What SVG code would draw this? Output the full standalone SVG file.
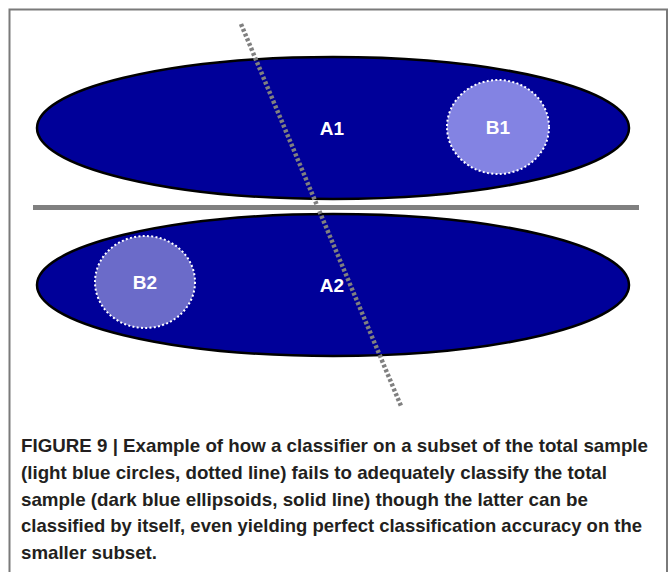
<svg xmlns="http://www.w3.org/2000/svg" width="671" height="572" viewBox="0 0 671 572">
  <defs>
    <style>
      .big { fill: #000099; stroke: #000000; stroke-width: 2.5; }
      .sub { stroke: #ffffff; stroke-width: 2; stroke-dasharray: 2 2.3; }
      .lbl { font-family: "Liberation Sans", Arial, sans-serif; font-weight: bold; font-size: 19px; fill: #ffffff; text-anchor: middle; }
      .cap { font-family: "Liberation Sans", Arial, sans-serif; font-weight: bold; font-size: 19px; fill: #231f20; }
    </style>
  </defs>
  <rect x="0" y="0" width="671" height="572" fill="#ffffff"/>
  <rect id="frame" x="9.5" y="9.5" width="657.5" height="600" fill="none" stroke="#7a7a7a" stroke-width="2"/>

  <g id="A1">
    <ellipse class="big" cx="333" cy="128" rx="296" ry="71"/>
    <text class="lbl" x="332" y="135">A1</text>
  </g>
  <g id="A2">
    <ellipse class="big" cx="333" cy="285" rx="296" ry="71"/>
    <text class="lbl" x="332" y="292">A2</text>
  </g>
  <g id="B1">
    <ellipse class="sub" cx="498" cy="127" rx="51" ry="47" fill="#8383e3"/>
    <text class="lbl" x="498" y="134">B1</text>
  </g>
  <g id="B2">
    <ellipse class="sub" cx="145" cy="282" rx="50" ry="46" fill="#6b6bc9"/>
    <text class="lbl" x="145" y="289">B2</text>
  </g>

  <g id="connectors">
    <line id="solid-line" x1="33" y1="207.5" x2="639" y2="207.5" stroke="#808080" stroke-width="5"/>
    <line id="dotted-line" x1="241" y1="24" x2="401" y2="406" stroke="#808080" stroke-width="4.5" stroke-dasharray="3 2.2"/>
  </g>

  <g id="caption">
    <text class="cap" x="21" y="452" textLength="627" lengthAdjust="spacingAndGlyphs">FIGURE 9 | Example of how a classifier on a subset of the total sample</text>
    <text class="cap" x="21" y="478.75" textLength="586" lengthAdjust="spacingAndGlyphs">(light blue circles, dotted line) fails to adequately classify the total</text>
    <text class="cap" x="21" y="505.5" textLength="567" lengthAdjust="spacingAndGlyphs">sample (dark blue ellipsoids, solid line) though the latter can be</text>
    <text class="cap" x="21" y="532.25" textLength="621" lengthAdjust="spacingAndGlyphs">classified by itself, even yielding perfect classification accuracy on the</text>
    <text class="cap" x="21" y="559" textLength="136" lengthAdjust="spacingAndGlyphs">smaller subset.</text>
  </g>
</svg>
